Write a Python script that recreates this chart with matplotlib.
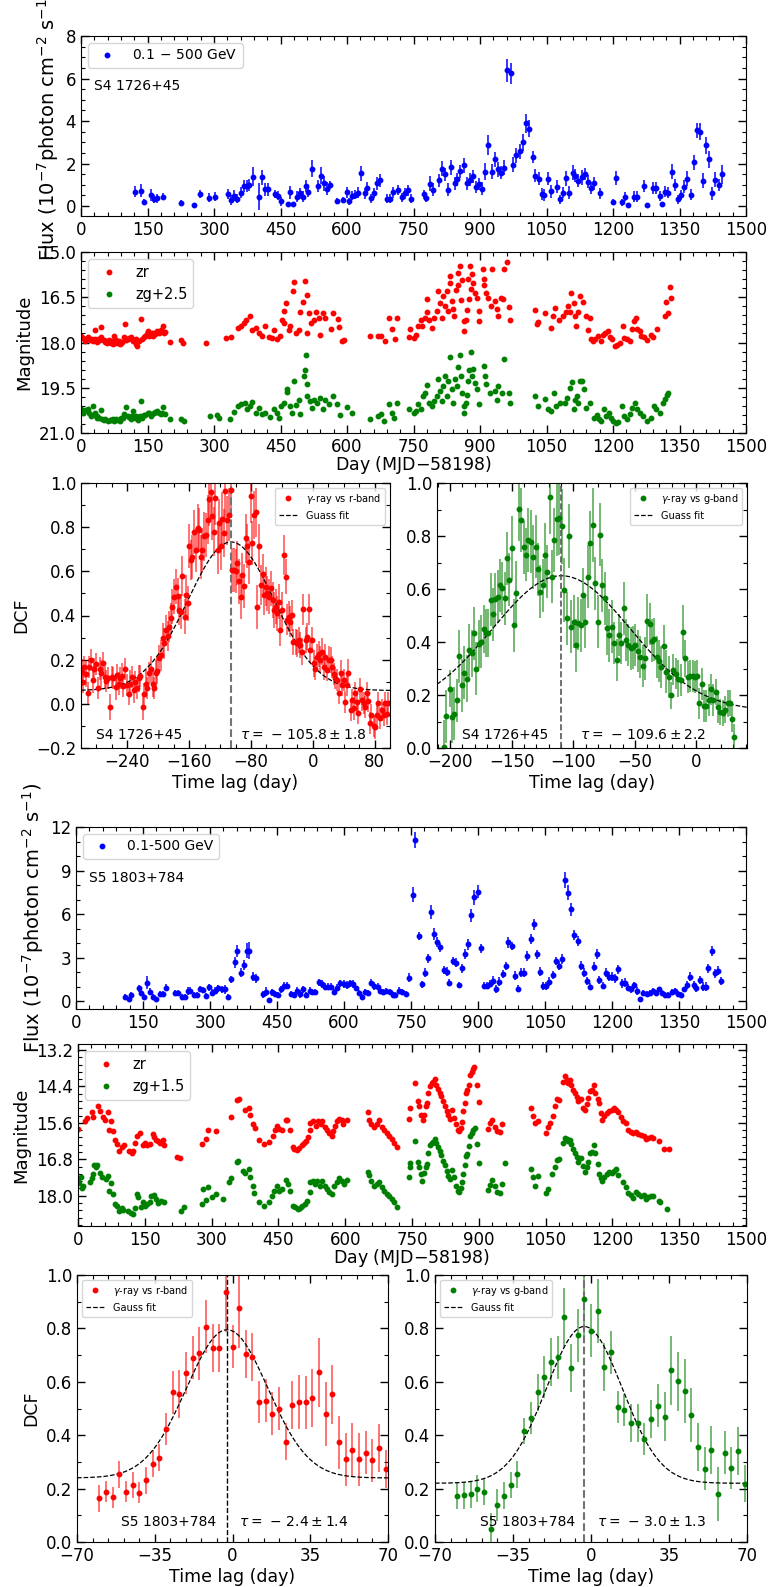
import numpy as np
import matplotlib
matplotlib.use("Agg")
import matplotlib.pyplot as plt
from matplotlib.colors import to_rgba
from matplotlib.ticker import AutoMinorLocator


# ---------------- S4 1726+45 : gamma-ray light curve ----------------
s4_days = [122, 136, 143, 157, 164, 172, 184, 226, 255, 268,
           289, 303, 331, 338, 346, 352, 360, 367, 374, 380,
           387, 402, 409, 416, 422, 438, 445, 451, 466, 472,
           479, 487, 493, 500, 507, 513, 520, 534, 541, 549,
           555, 562, 577, 592, 599, 605, 612, 619, 625, 632,
           640, 646, 654, 661, 667, 674, 690, 696, 703, 716,
           724, 731, 737, 745, 773, 779, 787, 794, 808, 815,
           822, 828, 835, 843, 849, 856, 864, 871, 877, 884,
           890, 898, 905, 912, 919, 927, 933, 940, 948, 955,
           961, 969, 975, 982, 990, 997, 1004, 1011, 1019, 1025,
           1032, 1039, 1045, 1053, 1060, 1073, 1081, 1088, 1095, 1101,
           1109, 1115, 1122, 1129, 1136, 1143, 1151, 1157, 1171, 1200,
           1207, 1221, 1227, 1234, 1248, 1254, 1269, 1276, 1291, 1297,
           1305, 1311, 1318, 1325, 1332, 1339, 1347, 1354, 1360, 1367,
           1375, 1382, 1389, 1396, 1402, 1410, 1417, 1424, 1431, 1438,
           1445]
s4_flux = [0.68, 0.72, 0.19, 0.52, 0.32, 0.36, 0.44, 0.16, 0.05, 0.57,
           0.39, 0.44, 0.57, 0.28, 0.49, 0.35, 0.63, 0.94, 0.94, 0.99,
           1.37, 0.44, 1.35, 0.79, 0.79, 0.57, 0.49, 0.22, 0.09, 0.65,
           0.09, 0.44, 0.60, 0.44, 0.94, 0.68, 1.75, 0.94, 1.43, 1.07,
           0.82, 0.98, 0.25, 0.28, 0.65, 0.22, 0.49, 0.54, 0.63, 1.53,
           0.60, 0.83, 0.36, 0.61, 1.07, 1.21, 0.35, 0.35, 0.65, 0.76,
           0.41, 0.60, 0.74, 0.35, 0.55, 0.39, 1.04, 0.76, 1.21, 1.76,
           1.50, 0.76, 1.83, 1.06, 1.26, 1.64, 1.91, 1.06, 1.24, 1.39,
           0.90, 1.04, 0.82, 1.62, 2.87, 1.62, 2.20, 1.72, 1.56, 1.81,
           6.38, 6.24, 1.94, 2.39, 2.57, 2.99, 3.89, 3.64, 2.31, 1.42,
           1.28, 0.57, 0.52, 1.28, 0.69, 0.91, 0.31, 0.63, 1.31, 0.63,
           1.57, 1.42, 1.20, 1.35, 1.51, 1.15, 0.85, 1.07, 0.60, 0.20,
           1.32, 0.17, 0.44, 0.05, 0.44, 0.44, 0.94, 0.06, 0.85, 0.85,
           0.47, 0.08, 0.68, 0.63, 1.61, 0.99, 0.31, 0.52, 0.91, 1.28,
           0.54, 2.06, 3.57, 3.50, 1.18, 2.85, 2.20, 0.60, 1.23, 0.99,
           1.50]
s4_ferr = [0.25, 0.3, 0.12, 0.3, 0.2, 0.2, 0.15, 0.12, 0.1, 0.2,
           0.2, 0.2, 0.25, 0.25, 0.25, 0.2, 0.25, 0.3, 0.3, 0.3,
           0.45, 0.65, 0.35, 0.3, 0.3, 0.2, 0.2, 0.2, 0.1, 0.3,
           0.1, 0.25, 0.25, 0.25, 0.3, 0.25, 0.4, 0.3, 0.4, 0.35,
           0.3, 0.2, 0.15, 0.15, 0.25, 0.15, 0.2, 0.2, 0.25, 0.35,
           0.25, 0.3, 0.2, 0.25, 0.3, 0.3, 0.2, 0.2, 0.25, 0.25,
           0.2, 0.25, 0.25, 0.2, 0.2, 0.2, 0.35, 0.3, 0.3, 0.35,
           0.3, 0.3, 0.35, 0.3, 0.3, 0.3, 0.35, 0.3, 0.3, 0.3,
           0.3, 0.3, 0.3, 0.4, 0.45, 0.35, 0.35, 0.35, 0.3, 0.35,
           0.55, 0.5, 0.35, 0.35, 0.35, 0.4, 0.45, 0.4, 0.3, 0.3,
           0.3, 0.3, 0.3, 0.3, 0.3, 0.3, 0.2, 0.25, 0.35, 0.3,
           0.35, 0.3, 0.3, 0.35, 0.3, 0.3, 0.3, 0.3, 0.25, 0.15,
           0.35, 0.15, 0.2, 0.1, 0.25, 0.25, 0.3, 0.1, 0.3, 0.3,
           0.25, 0.1, 0.25, 0.25, 0.35, 0.3, 0.2, 0.25, 0.3, 0.35,
           0.25, 0.35, 0.35, 0.4, 0.35, 0.4, 0.4, 0.3, 0.35, 0.3,
           0.45]

# ---------------- S4 1726+45 : ZTF magnitudes (day, mag) ----------------
s4_zr = [(0, 17.77), (5, 17.85), (10, 17.95), (15, 17.81), (20, 17.92), (24, 17.88), (28, 17.95), (31, 17.57),
         (31, 17.88), (35, 17.98), (38, 17.90), (42, 17.93), (45, 17.48), (45, 17.81), (52, 17.91), (55, 17.97),
         (58, 18.02), (60, 17.98), (63, 17.92), (67, 18.02), (70, 17.95), (72, 18.05), (75, 17.98), (75, 17.77),
         (78, 17.93), (82, 18.03), (85, 17.95), (88, 18.05), (90, 18.00), (93, 17.97), (97, 17.81), (99, 17.40),
         (102, 17.92), (105, 17.89), (108, 17.84), (112, 17.81), (115, 17.87), (118, 17.95), (120, 17.91),
         (123, 18.05), (125, 17.90), (127, 18.11), (130, 17.95), (135, 17.22), (138, 17.87), (142, 17.81),
         (145, 17.78), (148, 17.72), (150, 17.63), (153, 17.80), (157, 17.74), (160, 17.70), (163, 17.78),
         (165, 17.68), (168, 17.72), (172, 17.63), (175, 17.70), (178, 17.65), (180, 17.57), (183, 17.62),
         (186, 17.44), (187, 17.70), (190, 17.66), (200, 17.98), (225, 17.91), (229, 18.02), (281, 18.01),
         (326, 17.84), (339, 17.82), (354, 17.53), (360, 17.44), (367, 17.35), (373, 17.26), (382, 17.13),
         (386, 17.57), (394, 17.52), (401, 17.68), (409, 17.77), (416, 17.44), (424, 17.81), (431, 17.85),
         (436, 17.57), (442, 17.88), (449, 17.79), (454, 17.24), (457, 17.35), (459, 16.96), (463, 16.69),
         (469, 17.57), (472, 17.46), (478, 16.30), (480, 16.00), (484, 17.68), (491, 17.57), (495, 17.00),
         (501, 16.67), (506, 15.97), (509, 16.41), (510, 17.68), (514, 17.02), (519, 17.35), (525, 17.24),
         (531, 17.00), (536, 17.20), (539, 17.74), (546, 17.02), (551, 17.18), (563, 17.55), (569, 17.02),
         (579, 17.22), (581, 17.48), (589, 17.95), (593, 17.91), (653, 17.77), (671, 17.77), (677, 17.77),
         (686, 17.95), (694, 17.18), (701, 17.55), (709, 17.89), (713, 17.18), (739, 17.82), (743, 17.55),
         (750, 17.85), (756, 17.74), (761, 17.46), (766, 17.26), (770, 17.46), (776, 17.18), (780, 17.00),
         (780, 16.56), (785, 17.24), (791, 17.51), (797, 17.18), (803, 16.96), (806, 16.30), (810, 16.69),
         (814, 17.18), (817, 16.47), (821, 16.78), (825, 16.30), (827, 16.96), (832, 16.03), (832, 15.78),
         (836, 16.63), (840, 16.89), (842, 17.13), (845, 16.25), (850, 16.08), (851, 15.69), (855, 15.45),
         (857, 16.58), (859, 15.92), (863, 17.29), (865, 17.62), (868, 17.24), (870, 16.91), (874, 15.89),
         (876, 16.56), (878, 15.47), (880, 16.22), (883, 15.72), (885, 16.03), (889, 16.36), (893, 16.52),
         (897, 16.96), (898, 17.29), (906, 15.56), (908, 15.89), (910, 16.08), (913, 16.36), (919, 16.52),
         (925, 16.78), (928, 15.56), (934, 16.63), (938, 16.89), (940, 17.11), (947, 16.52), (952, 16.56),
         (955, 15.56), (962, 15.34), (965, 16.82), (968, 17.26), (1024, 16.93), (1028, 17.40), (1030, 17.33),
         (1046, 17.02), (1061, 17.53), (1065, 17.13), (1069, 16.85), (1078, 17.26), (1087, 17.13),
         (1093, 17.00), (1099, 16.78), (1102, 17.00), (1106, 16.36), (1111, 16.69), (1114, 17.11),
         (1116, 17.46), (1122, 17.00), (1125, 16.47), (1133, 16.67), (1138, 17.13), (1143, 17.57),
         (1148, 17.18), (1150, 17.88), (1155, 17.95), (1160, 17.89), (1166, 17.77), (1172, 17.95),
         (1177, 17.74), (1183, 17.68), (1189, 17.63), (1193, 17.81), (1198, 17.88), (1204, 18.12),
         (1210, 18.07), (1215, 18.01), (1222, 17.44), (1225, 17.85), (1232, 17.89), (1238, 17.95),
         (1243, 17.55), (1247, 17.29), (1251, 17.18), (1255, 17.55), (1260, 17.63), (1264, 17.77),
         (1271, 17.81), (1277, 17.91), (1285, 17.74), (1290, 17.81), (1300, 17.55), (1318, 17.11),
         (1320, 16.67), (1324, 17.02), (1328, 16.16), (1330, 16.52)]

s4_zg = [(0, 20.22), (4, 20.35), (5, 20.30), (7, 20.27), (10, 20.25), (15, 20.19), (18, 20.35), (22, 20.44),
         (26, 20.11), (28, 20.40), (31, 20.35), (35, 20.45), (37, 20.49), (40, 20.50), (45, 20.24), (48, 20.52),
         (52, 20.57), (55, 20.55), (60, 20.60), (65, 20.58), (67, 20.57), (72, 20.55), (75, 20.60), (80, 20.55),
         (82, 20.57), (88, 20.60), (90, 20.49), (95, 20.50), (97, 20.38), (101, 20.13), (105, 20.44),
         (108, 20.48), (112, 20.55), (115, 20.45), (118, 20.27), (122, 20.50), (124, 20.44), (129, 20.57),
         (132, 20.45), (135, 19.94), (138, 20.50), (142, 20.41), (145, 20.40), (150, 20.33), (153, 20.35),
         (157, 20.44), (160, 20.38), (165, 20.33), (168, 20.30), (172, 20.27), (176, 20.35), (180, 20.38),
         (183, 20.33), (186, 20.13), (189, 20.38), (200, 20.55), (226, 20.55), (232, 20.60), (291, 20.44),
         (306, 20.41), (311, 20.49), (337, 20.55), (345, 20.30), (354, 20.11), (360, 20.05), (369, 20.02),
         (375, 20.19), (381, 20.11), (386, 19.97), (394, 20.33), (401, 20.16), (409, 20.38), (416, 20.33),
         (427, 20.46), (435, 20.22), (441, 20.33), (446, 20.49), (452, 20.11), (457, 20.02), (464, 19.55),
         (465, 19.64), (471, 20.11), (476, 20.33), (480, 19.28), (484, 20.08), (491, 19.89), (495, 20.38),
         (502, 19.11), (506, 18.91), (508, 18.40), (509, 19.39), (510, 19.78), (516, 19.94), (521, 20.16),
         (526, 19.89), (532, 20.02), (539, 19.83), (546, 20.19), (551, 19.89), (559, 20.05), (569, 19.78),
         (577, 20.05), (585, 20.41), (600, 20.13), (611, 20.35), (651, 20.52), (671, 20.44), (676, 20.38),
         (684, 20.60), (694, 20.05), (701, 20.33), (707, 20.49), (713, 19.99), (739, 20.22), (750, 20.33),
         (756, 20.27), (761, 20.05), (767, 20.19), (772, 19.78), (776, 19.66), (780, 19.42), (785, 19.99),
         (791, 20.11), (797, 19.94), (803, 19.78), (806, 19.22), (810, 19.61), (814, 19.94), (817, 19.44),
         (821, 19.11), (825, 19.78), (828, 19.28), (832, 18.47), (836, 19.53), (840, 19.99), (843, 19.22),
         (847, 19.44), (851, 18.80), (855, 18.43), (857, 19.11), (860, 19.69), (863, 20.11), (865, 20.33),
         (868, 20.02), (870, 19.75), (874, 19.28), (876, 18.91), (880, 18.32), (883, 19.11), (885, 18.87),
         (889, 19.33), (893, 19.55), (897, 20.05), (908, 18.78), (911, 19.11), (913, 19.36), (923, 19.66),
         (934, 19.61), (938, 19.89), (941, 19.44), (949, 19.66), (955, 18.54), (965, 19.66), (968, 19.99),
         (1024, 19.78), (1031, 20.11), (1046, 19.86), (1054, 20.22), (1061, 20.27), (1067, 19.69),
         (1072, 20.11), (1080, 19.99), (1091, 19.99), (1097, 19.83), (1102, 19.50), (1107, 19.31),
         (1111, 20.22), (1114, 19.89), (1118, 19.78), (1122, 19.99), (1125, 19.28), (1129, 19.28),
         (1135, 19.55), (1140, 20.16), (1148, 19.99), (1157, 20.49), (1163, 20.41), (1168, 20.55),
         (1174, 20.60), (1180, 20.22), (1185, 20.44), (1190, 20.33), (1195, 20.49), (1200, 20.60),
         (1206, 20.66), (1211, 20.63), (1220, 20.11), (1225, 20.44), (1232, 20.55), (1238, 20.38),
         (1243, 20.16), (1249, 19.99), (1255, 20.19), (1260, 20.33), (1268, 20.44), (1277, 20.60),
         (1285, 20.49), (1292, 20.11), (1298, 20.22), (1307, 20.33), (1313, 19.99), (1318, 19.86),
         (1322, 19.75), (1325, 19.66)]

# ---------------- S4 1726+45 : DCF ----------------
r1_lags = [-299, -298, -296, -293, -291, -289, -287, -285, -283, -280,
           -278, -276, -274, -271, -269, -267, -265, -262, -260, -258,
           -255, -253, -251, -249, -247, -245, -243, -240, -238, -236,
           -234, -232, -230, -228, -225, -223, -220, -218, -216, -214,
           -212, -209, -207, -205, -203, -201, -199, -197, -194, -192,
           -190, -188, -186, -184, -182, -179, -177, -175, -173, -171,
           -169, -166, -164, -162, -160, -158, -156, -154, -151, -149,
           -147, -145, -143, -141, -138, -136, -134, -132, -130, -128,
           -126, -123, -121, -119, -117, -115, -113, -111, -108, -106,
           -104, -102, -100, -98, -95, -93, -91, -89, -87, -85,
           -83, -80, -78, -76, -74, -72, -70, -67, -65, -63,
           -61, -59, -57, -54, -52, -50, -48, -46, -44, -42,
           -40, -37, -35, -33, -31, -29, -27, -25, -22, -20,
           -18, -16, -14, -12, -9, -7, -5, -3, -1, 1,
           3, 6, 8, 10, 12, 14, 16, 19, 21, 23,
           25, 27, 29, 31, 34, 36, 38, 40, 42, 44,
           46, 49, 51, 53, 55, 57, 59, 61, 64, 66,
           68, 70, 72, 74, 76, 79, 81, 83, 85, 87,
           89, 92, 94, 96, 98]
r1_dcf = [0.142, 0.10, 0.168, 0.135, 0.05, 0.168, 0.20, 0.11, 0.156, 0.18,
          0.07, 0.16, 0.138, 0.183, 0.123, 0.104, 0.115, -0.014, 0.12, 0.115,
          0.077, 0.13, 0.092, 0.115, 0.126, 0.08, 0.156, 0.085, 0.044, 0.092,
          0.12, 0.062, 0.10, 0.07, 0.115, 0.126, -0.014, 0.044, 0.092, 0.07,
          0.138, 0.156, 0.092, 0.07, 0.138, 0.15, 0.206, 0.22, 0.296, 0.274,
          0.334, 0.307, 0.35, 0.387, 0.44, 0.486, 0.531, 0.489, 0.425, 0.418,
          0.58, 0.395, 0.493, 0.455, 0.713, 0.652, 0.664, 0.78, 0.697, 0.796,
          0.788, 0.664, 0.697, 0.758, 0.766, 0.834, 0.927, 0.958, 0.852, 0.78,
          0.932, 0.697, 0.818, 0.716, 0.837, 0.773, 0.962, 0.831, 0.856, 0.97,
          0.607, 0.607, 0.60, 0.637, 0.554, 0.486, 0.584, 0.534, 0.75, 0.713,
          0.644, 0.94, 0.73, 0.856, 0.867, 0.44, 0.713, 0.538, 0.59, 0.493,
          0.531, 0.50, 0.486, 0.523, 0.47, 0.425, 0.44, 0.41, 0.463, 0.334,
          0.425, 0.675, 0.576, 0.38, 0.395, 0.372, 0.402, 0.281, 0.281, 0.274,
          0.289, 0.266, 0.236, 0.428, 0.289, 0.304, 0.428, 0.244, 0.289, 0.183,
          0.16, 0.213, 0.225, 0.20, 0.236, 0.168, 0.213, 0.153, 0.20, 0.198,
          0.165, 0.135, 0.115, 0.11, 0.05, 0.138, 0.085, 0.11, 0.009, 0.085,
          0.141, -0.029, 0.017, -0.021, 0.05, 0.009, -0.041, 0.065, 0.017, 0.002,
          -0.014, 0.047, 0.014, -0.086, -0.051, -0.101, -0.107, -0.051, 0.002, -0.066,
          -0.026, -0.051, 0.002, -0.044, 0.002]
r1_err = [0.06, 0.05, 0.05, 0.06, 0.05, 0.05, 0.05, 0.06, 0.05, 0.05,
          0.05, 0.05, 0.06, 0.05, 0.05, 0.05, 0.05, 0.06, 0.05, 0.05,
          0.06, 0.05, 0.05, 0.05, 0.06, 0.05, 0.05, 0.05, 0.05, 0.06,
          0.05, 0.06, 0.05, 0.05, 0.06, 0.05, 0.06, 0.05, 0.06, 0.05,
          0.05, 0.06, 0.06, 0.05, 0.06, 0.06, 0.06, 0.07, 0.07, 0.07,
          0.07, 0.07, 0.07, 0.07, 0.08, 0.08, 0.08, 0.08, 0.07, 0.08,
          0.09, 0.08, 0.09, 0.08, 0.10, 0.09, 0.10, 0.10, 0.10, 0.11,
          0.10, 0.10, 0.10, 0.11, 0.10, 0.11, 0.12, 0.12, 0.11, 0.11,
          0.12, 0.11, 0.11, 0.11, 0.12, 0.11, 0.13, 0.11, 0.12, 0.13,
          0.10, 0.10, 0.10, 0.10, 0.10, 0.10, 0.10, 0.10, 0.11, 0.10,
          0.10, 0.12, 0.10, 0.11, 0.11, 0.10, 0.10, 0.09, 0.09, 0.09,
          0.09, 0.08, 0.08, 0.08, 0.08, 0.08, 0.08, 0.08, 0.08, 0.07,
          0.08, 0.09, 0.08, 0.07, 0.07, 0.07, 0.07, 0.06, 0.06, 0.06,
          0.06, 0.06, 0.06, 0.07, 0.06, 0.06, 0.07, 0.06, 0.06, 0.06,
          0.05, 0.06, 0.06, 0.06, 0.06, 0.06, 0.06, 0.05, 0.06, 0.06,
          0.05, 0.05, 0.05, 0.05, 0.05, 0.06, 0.05, 0.05, 0.05, 0.05,
          0.06, 0.05, 0.05, 0.05, 0.05, 0.05, 0.05, 0.05, 0.05, 0.05,
          0.05, 0.05, 0.05, 0.05, 0.05, 0.05, 0.05, 0.05, 0.05, 0.05,
          0.05, 0.05, 0.05, 0.05, 0.05]

g1_lags = [-205.1, -202.9, -200.2, -198.3, -196.4, -194.2, -192.4, -190.1, -188.3, -186.4,
           -184.3, -182.4, -180.5, -178.6, -176.7, -174.8, -172.6, -170.7, -168.8, -166.9,
           -165.0, -163.1, -161.3, -159.4, -157.5, -155.6, -153.7, -151.8, -149.9, -148.0,
           -146.1, -144.2, -142.3, -140.2, -138.3, -136.4, -134.5, -132.6, -130.4, -128.5,
           -126.6, -124.7, -122.8, -120.9, -119.0, -117.1, -115.3, -113.1, -111.2, -109.0,
           -107.1, -105.2, -103.4, -101.5, -99.6, -97.7, -95.8, -93.9, -92.0, -90.1,
           -88.2, -86.0, -84.1, -82.3, -80.1, -78.2, -76.3, -74.4, -72.5, -70.6,
           -68.7, -66.6, -64.7, -62.8, -60.9, -59.0, -57.1, -55.2, -53.3, -51.4,
           -49.5, -47.6, -45.5, -43.6, -41.7, -39.8, -37.9, -36.0, -34.1, -32.2,
           -30.3, -28.4, -26.5, -24.4, -22.5, -20.6, -18.7, -16.8, -14.6, -12.7,
           -10.8, -8.9, -7.0, -5.1, -3.2, -1.4, 0.5, 2.4, 4.3, 6.2,
           8.1, 10.0, 11.9, 13.8, 15.7, 17.6, 19.5, 21.4, 23.3, 25.2,
           27.1, 29.0, 30.8]
g1_dcf = [0.004, 0.12, 0.224, 0.117, 0.13, 0.18, 0.347, 0.237, 0.284, 0.262,
          0.369, 0.357, 0.433, 0.30, 0.392, 0.401, 0.448, 0.435, 0.433, 0.559,
          0.504, 0.561, 0.571, 0.615, 0.603, 0.565, 0.716, 0.634, 0.754, 0.464,
          0.586, 0.902, 0.861, 0.758, 0.729, 0.786, 0.779, 0.72, 0.76, 0.675,
          0.59, 0.615, 0.729, 0.666, 0.947, 0.647, 0.786, 0.864, 0.868, 0.836,
          0.596, 0.489, 0.801, 0.458, 0.477, 0.388, 0.47, 0.464, 0.578, 0.477,
          0.647, 0.773, 0.842, 0.622, 0.477, 0.805, 0.615, 0.565, 0.451, 0.426,
          0.458, 0.397, 0.332, 0.426, 0.397, 0.527, 0.407, 0.388, 0.376, 0.38,
          0.388, 0.367, 0.344, 0.309, 0.338, 0.48, 0.468, 0.405, 0.41, 0.344,
          0.328, 0.306, 0.385, 0.288, 0.269, 0.199, 0.296, 0.281, 0.262, 0.256,
          0.439, 0.338, 0.269, 0.271, 0.271, 0.269, 0.271, 0.168, 0.243, 0.158,
          0.158, 0.18, 0.221, 0.18, 0.212, 0.153, 0.136, 0.132, 0.145, 0.168,
          0.17, 0.111, 0.042]
g1_err = [0.10, 0.10, 0.07, 0.10, 0.10, 0.08, 0.10, 0.10, 0.10, 0.09,
          0.10, 0.09, 0.10, 0.10, 0.09, 0.10, 0.09, 0.09, 0.09, 0.10,
          0.10, 0.10, 0.10, 0.10, 0.10, 0.10, 0.10, 0.10, 0.12, 0.10,
          0.12, 0.12, 0.12, 0.10, 0.10, 0.12, 0.12, 0.12, 0.12, 0.10,
          0.10, 0.10, 0.12, 0.10, 0.14, 0.10, 0.12, 0.14, 0.14, 0.14,
          0.12, 0.10, 0.12, 0.10, 0.10, 0.10, 0.10, 0.10, 0.10, 0.10,
          0.12, 0.12, 0.14, 0.10, 0.10, 0.12, 0.10, 0.10, 0.10, 0.10,
          0.10, 0.08, 0.08, 0.08, 0.08, 0.10, 0.08, 0.08, 0.08, 0.08,
          0.08, 0.08, 0.08, 0.08, 0.08, 0.10, 0.08, 0.08, 0.08, 0.08,
          0.08, 0.08, 0.08, 0.08, 0.08, 0.05, 0.06, 0.06, 0.07, 0.06,
          0.10, 0.07, 0.06, 0.06, 0.06, 0.06, 0.06, 0.06, 0.06, 0.06,
          0.06, 0.06, 0.06, 0.06, 0.05, 0.06, 0.05, 0.05, 0.05, 0.05,
          0.05, 0.05, 0.05]

# ---------------- S5 1803+784 : gamma-ray light curve ----------------
s5_days = [110, 118, 124, 140, 146, 153, 160, 166, 173, 179,
           187, 194, 201, 221, 228, 237, 243, 250, 256, 264,
           271, 277, 284, 292, 298, 305, 311, 319, 326, 333,
           340, 347, 355, 361, 369, 375, 382, 388, 396, 403,
           418, 425, 431, 439, 446, 452, 460, 466, 473, 481,
           488, 494, 502, 508, 515, 523, 529, 536, 545, 551,
           558, 564, 571, 578, 585, 592, 599, 606, 613, 620,
           626, 633, 640, 647, 654, 661, 668, 675, 681, 688,
           695, 702, 709, 715, 723, 730, 739, 746, 754, 760,
           767, 774, 781, 788, 795, 802, 809, 815, 823, 830,
           836, 843, 851, 857, 864, 872, 878, 885, 892, 899,
           906, 913, 920, 927, 933, 941, 948, 955, 962, 968,
           975, 983, 989, 996, 1003, 1010, 1018, 1026, 1032, 1039,
           1045, 1053, 1060, 1067, 1074, 1081, 1088, 1095, 1102, 1109,
           1116, 1124, 1130, 1137, 1145, 1151, 1159, 1166, 1172, 1179,
           1186, 1193, 1200, 1207, 1214, 1222, 1228, 1236, 1242, 1249,
           1257, 1263, 1270, 1278, 1285, 1291, 1299, 1305, 1313, 1319,
           1326, 1334, 1340, 1348, 1355, 1361, 1368, 1375, 1383, 1389,
           1397, 1403, 1410, 1416, 1423, 1431, 1437, 1444]
s5_flux = [0.25, 0.11, 0.41, 0.87, 0.57, 0.25, 1.26, 0.64, 0.30, 0.16,
           0.48, 0.48, 0.92, 0.57, 0.57, 0.25, 0.25, 0.69, 0.71, 0.41,
           0.39, 0.85, 0.78, 0.34, 0.94, 0.57, 0.71, 0.87, 0.80, 0.80,
           0.30, 1.49, 2.66, 3.47, 1.95, 2.48, 3.47, 3.47, 1.68, 1.56,
           0.46, 0.64, 0.07, 0.60, 0.46, 0.41, 0.80, 1.03, 1.06, 0.46,
           0.44, 0.71, 0.48, 0.80, 0.41, 0.71, 0.64, 0.64, 1.29, 1.17,
           0.99, 0.99, 0.99, 0.62, 0.92, 1.22, 1.17, 1.10, 1.22, 1.17,
           0.87, 0.57, 0.30, 0.64, 0.53, 1.26, 1.03, 0.99, 0.71, 0.64,
           0.71, 0.64, 0.41, 0.41, 0.71, 0.64, 0.48, 1.61, 7.34, 11.13,
           4.48, 1.15, 1.95, 2.94, 6.15, 4.61, 4.09, 3.70, 2.13, 2.02,
           1.26, 2.75, 2.64, 1.10, 2.25, 3.24, 3.90, 5.92, 7.14, 7.53,
           3.63, 1.06, 1.06, 1.19, 1.40, 0.83, 1.33, 1.86, 2.41, 4.04,
           3.79, 1.74, 0.85, 1.95, 1.95, 3.10, 4.29, 5.28, 3.21, 2.02,
           1.03, 1.03, 1.33, 1.79, 2.75, 2.43, 2.91, 8.33, 7.48, 6.33,
           4.54, 4.13, 2.43, 1.95, 1.38, 0.99, 2.36, 3.24, 1.45, 1.06,
           1.95, 1.68, 1.68, 1.56, 2.18, 1.22, 1.26, 0.92, 0.80, 1.08,
           0.69, 0.11, 0.57, 0.46, 0.53, 0.71, 0.57, 0.80, 0.57, 0.41,
           0.41, 0.64, 0.69, 0.48, 0.41, 0.80, 1.10, 1.68, 1.10, 0.87,
           1.45, 0.99, 0.99, 2.25, 3.47, 1.91, 2.09, 1.38]
s5_ferr = [0.2, 0.15, 0.2, 0.25, 0.25, 0.2, 0.45, 0.25, 0.2, 0.15,
           0.2, 0.2, 0.25, 0.2, 0.2, 0.2, 0.2, 0.25, 0.25, 0.2,
           0.2, 0.2, 0.2, 0.2, 0.25, 0.25, 0.25, 0.25, 0.25, 0.3,
           0.2, 0.25, 0.35, 0.4, 0.3, 0.35, 0.5, 0.6, 0.3, 0.3,
           0.25, 0.3, 0.15, 0.25, 0.2, 0.2, 0.25, 0.25, 0.25, 0.2,
           0.2, 0.25, 0.3, 0.25, 0.2, 0.25, 0.2, 0.2, 0.25, 0.25,
           0.25, 0.25, 0.25, 0.2, 0.25, 0.25, 0.25, 0.25, 0.25, 0.25,
           0.2, 0.2, 0.2, 0.2, 0.2, 0.25, 0.25, 0.25, 0.2, 0.2,
           0.2, 0.2, 0.2, 0.2, 0.25, 0.2, 0.2, 0.3, 0.5, 0.55,
           0.3, 0.25, 0.3, 0.3, 0.5, 0.4, 0.35, 0.3, 0.3, 0.3,
           0.25, 0.3, 0.3, 0.2, 0.3, 0.35, 0.4, 0.45, 0.5, 0.45,
           0.3, 0.25, 0.25, 0.25, 0.3, 0.25, 0.3, 0.3, 0.3, 0.35,
           0.3, 0.3, 0.25, 0.3, 0.3, 0.35, 0.35, 0.4, 0.3, 0.3,
           0.25, 0.25, 0.3, 0.3, 0.3, 0.3, 0.35, 0.55, 0.5, 0.45,
           0.35, 0.35, 0.3, 0.3, 0.25, 0.25, 0.3, 0.35, 0.3, 0.25,
           0.3, 0.3, 0.3, 0.3, 0.3, 0.3, 0.3, 0.25, 0.25, 0.25,
           0.25, 0.15, 0.2, 0.2, 0.2, 0.2, 0.2, 0.2, 0.2, 0.2,
           0.2, 0.2, 0.2, 0.2, 0.2, 0.2, 0.25, 0.3, 0.25, 0.25,
           0.3, 0.3, 0.3, 0.3, 0.35, 0.3, 0.3, 0.25]

# ---------------- S5 1803+784 : ZTF magnitudes (day, mag) ----------------
s5_zr = [(0, 15.80), (16, 15.55), (21, 15.44), (31, 15.25), (33, 15.40), (45, 15.05), (49, 15.22), (57, 15.40),
         (61, 15.49), (67, 15.25), (70, 15.82), (74, 15.55), (78, 15.87), (82, 16.17), (87, 16.31), (93, 16.53),
         (98, 16.39), (103, 16.34), (115, 16.53), (121, 16.60), (124, 16.53), (128, 16.25), (132, 16.04),
         (139, 15.95), (145, 16.34), (150, 16.28), (156, 16.34), (162, 16.31), (168, 15.98), (171, 16.06),
         (175, 16.15), (180, 16.20), (184, 16.25), (190, 16.17), (193, 16.34), (223, 16.71), (229, 16.75),
         (278, 16.31), (287, 16.12), (293, 15.82), (310, 15.88), (343, 15.41), (358, 14.84), (361, 14.81),
         (374, 15.19), (383, 15.11), (386, 15.33), (392, 15.65), (397, 15.76), (407, 16.17), (418, 16.31),
         (430, 16.23), (437, 16.04), (442, 15.82), (446, 15.69), (452, 15.80), (457, 15.82), (467, 15.51),
         (470, 15.51), (476, 15.84), (482, 16.39), (485, 16.47), (491, 16.51), (497, 16.42), (502, 16.34),
         (507, 16.28), (513, 16.20), (517, 16.06), (521, 15.82), (522, 15.60), (528, 15.55), (534, 15.69),
         (540, 15.55), (545, 15.65), (549, 15.55), (555, 15.73), (560, 15.84), (564, 15.93), (570, 16.04),
         (573, 15.87), (578, 15.69), (582, 15.55), (587, 15.47), (592, 15.49), (596, 15.65), (605, 15.51),
         (652, 15.25), (654, 15.51), (659, 15.65), (665, 15.73), (671, 15.65), (677, 15.51), (682, 15.73),
         (687, 15.84), (693, 15.93), (699, 16.04), (704, 16.12), (710, 16.25), (716, 16.39), (743, 15.47),
         (745, 15.11), (757, 14.29), (763, 14.89), (766, 15.05), (770, 15.33), (774, 15.49), (778, 15.33),
         (781, 15.05), (784, 14.95), (787, 14.62), (791, 14.38), (794, 14.29), (798, 14.24), (802, 14.16),
         (805, 14.35), (809, 14.49), (813, 14.60), (816, 14.73), (820, 14.89), (824, 15.05), (828, 15.22),
         (831, 15.33), (835, 15.47), (839, 15.19), (845, 15.44), (848, 15.65), (853, 15.82), (856, 15.87),
         (859, 15.76), (862, 15.58), (865, 15.22), (868, 14.95), (871, 14.62), (873, 14.51), (877, 14.35),
         (880, 14.02), (884, 13.91), (888, 13.83), (890, 13.77), (895, 14.35), (900, 14.92), (920, 15.80),
         (925, 15.60), (930, 15.49), (936, 15.73), (941, 15.87), (947, 15.91), (953, 15.65), (1018, 15.11),
         (1022, 15.36), (1027, 15.60), (1032, 15.55), (1050, 15.93), (1056, 15.73), (1061, 15.60),
         (1066, 15.36), (1070, 15.05), (1075, 14.81), (1080, 14.84), (1090, 14.24), (1093, 14.07),
         (1097, 14.18), (1101, 14.29), (1105, 14.20), (1108, 14.35), (1112, 14.51), (1116, 14.62),
         (1120, 14.75), (1123, 14.89), (1129, 14.81), (1135, 15.11), (1138, 15.19), (1142, 14.99),
         (1146, 14.78), (1150, 14.56), (1155, 14.51), (1159, 14.35), (1162, 14.60), (1167, 14.81),
         (1170, 14.95), (1174, 15.27), (1177, 15.49), (1182, 15.38), (1187, 15.29), (1192, 15.22),
         (1198, 15.19), (1204, 15.11), (1209, 15.16), (1213, 15.25), (1219, 15.40), (1224, 15.55),
         (1230, 15.62), (1236, 15.84), (1242, 15.91), (1247, 15.95), (1252, 15.91), (1258, 15.98),
         (1264, 16.01), (1270, 16.04), (1275, 16.12), (1281, 16.09), (1287, 16.06), (1292, 16.09),
         (1305, 16.20), (1315, 16.45), (1326, 16.47)]

s5_zg = [(0, 17.45), (3, 17.59), (6, 17.37), (9, 17.76), (12, 17.67), (27, 17.56), (31, 17.43), (34, 17.29),
         (36, 17.00), (40, 17.07), (43, 17.00), (49, 17.24), (55, 17.40), (63, 17.45), (67, 17.35), (70, 17.84),
         (73, 17.59), (78, 17.95), (83, 18.27), (88, 18.35), (93, 18.49), (98, 18.41), (102, 18.46),
         (113, 18.52), (118, 18.57), (123, 18.60), (128, 18.41), (132, 17.95), (135, 18.06), (141, 18.38),
         (145, 18.20), (150, 18.33), (156, 18.27), (162, 18.22), (165, 18.00), (171, 17.98), (175, 18.11),
         (180, 18.24), (186, 18.16), (192, 18.20), (231, 18.52), (237, 18.38), (278, 18.27), (281, 17.78),
         (287, 18.13), (293, 17.73), (302, 18.05), (310, 17.95), (325, 18.11), (340, 17.56), (343, 17.43),
         (358, 16.89), (360, 16.85), (370, 17.18), (375, 17.26), (383, 17.11), (386, 17.40), (392, 17.67),
         (395, 17.91), (407, 18.22), (418, 18.33), (430, 18.22), (435, 18.00), (440, 17.84), (446, 17.67),
         (452, 17.84), (457, 17.78), (467, 17.48), (472, 17.62), (476, 17.84), (482, 18.33), (487, 18.38),
         (493, 18.44), (499, 18.41), (504, 18.33), (510, 18.27), (515, 18.16), (520, 17.89), (522, 17.56),
         (527, 17.51), (532, 17.62), (537, 17.51), (543, 17.67), (549, 17.51), (555, 17.67), (560, 17.78),
         (564, 17.89), (570, 17.95), (575, 17.67), (581, 17.56), (587, 17.43), (592, 17.51), (597, 17.62),
         (605, 17.48), (652, 17.22), (654, 17.32), (659, 17.51), (665, 17.67), (671, 17.62), (677, 17.54),
         (682, 17.73), (687, 17.84), (693, 17.95), (699, 18.00), (704, 18.11), (710, 18.22), (716, 18.38),
         (743, 17.40), (745, 17.07), (745, 16.91), (757, 16.20), (763, 16.89), (766, 17.07), (770, 17.29),
         (773, 17.51), (778, 17.24), (781, 17.07), (783, 16.96), (787, 16.58), (791, 16.34), (794, 16.28),
         (798, 16.23), (802, 16.12), (805, 16.28), (809, 16.39), (813, 16.53), (816, 16.67), (820, 16.85),
         (824, 17.00), (828, 17.18), (831, 17.35), (835, 17.45), (840, 17.15), (845, 17.40), (848, 17.67),
         (853, 17.84), (856, 17.87), (859, 17.76), (862, 17.56), (865, 17.29), (868, 17.00), (871, 16.69),
         (873, 16.64), (877, 16.36), (880, 16.04), (884, 15.95), (888, 15.84), (891, 15.76), (895, 16.31),
         (900, 16.93), (920, 17.80), (925, 17.64), (930, 17.48), (936, 17.67), (941, 17.89), (947, 17.92),
         (953, 17.62), (959, 16.93), (1018, 17.13), (1022, 17.37), (1027, 17.67), (1032, 17.35),
         (1050, 17.92), (1056, 17.78), (1064, 17.29), (1070, 17.07), (1075, 16.82), (1080, 16.80),
         (1090, 16.25), (1093, 16.09), (1097, 16.14), (1101, 16.20), (1105, 16.17), (1108, 16.31),
         (1112, 16.47), (1116, 16.58), (1120, 16.71), (1123, 16.89), (1129, 16.75), (1135, 17.02),
         (1138, 17.21), (1142, 17.07), (1146, 16.89), (1150, 16.58), (1155, 16.56), (1159, 16.34),
         (1162, 16.58), (1167, 16.96), (1170, 17.29), (1174, 17.43), (1177, 17.51), (1182, 17.37),
         (1187, 17.29), (1192, 17.21), (1198, 17.24), (1204, 17.18), (1209, 17.13), (1213, 17.32),
         (1224, 17.54), (1230, 17.73), (1236, 17.92), (1242, 17.98), (1247, 18.09), (1252, 17.89),
         (1258, 17.95), (1264, 18.00), (1270, 17.98), (1275, 18.11), (1281, 18.05), (1287, 18.02),
         (1292, 18.00), (1304, 18.16), (1308, 18.22), (1323, 18.44)]

# ---------------- S5 1803+784 : DCF ----------------
lags_bottom = [-60, -57, -54, -51, -48, -45, -42, -39, -36, -33,
               -30, -27, -24, -21, -18, -15, -12, -9, -6, -3,
               0, 3, 6, 9, 12, 15, 18, 21, 24, 27,
               30, 33, 36, 39, 42, 45, 48, 51, 54, 57,
               60, 63, 66, 69]
r2_dcf = [0.163, 0.188, 0.167, 0.253, 0.188, 0.213, 0.185, 0.231, 0.293, 0.316,
          0.424, 0.561, 0.555, 0.633, 0.690, 0.707, 0.806, 0.728, 0.727, 0.936,
          0.732, 0.875, 0.703, 0.694, 0.524, 0.529, 0.480, 0.500, 0.376, 0.513,
          0.524, 0.523, 0.539, 0.635, 0.480, 0.553, 0.373, 0.310, 0.345, 0.310,
          0.335, 0.306, 0.353, 0.273]
r2_err = [0.05, 0.04, 0.04, 0.05, 0.04, 0.05, 0.04, 0.05, 0.05, 0.05,
          0.06, 0.08, 0.09, 0.08, 0.08, 0.10, 0.10, 0.09, 0.09, 0.15,
          0.08, 0.15, 0.09, 0.09, 0.08, 0.08, 0.08, 0.08, 0.07, 0.09,
          0.10, 0.10, 0.11, 0.13, 0.12, 0.11, 0.10, 0.10, 0.10, 0.10,
          0.08, 0.08, 0.09, 0.07]
g2_dcf = [0.173, 0.175, 0.178, 0.200, 0.188, 0.050, 0.138, 0.173, 0.213, 0.254,
          0.416, 0.464, 0.560, 0.618, 0.675, 0.692, 0.842, 0.653, 0.774, 0.910,
          0.792, 0.865, 0.654, 0.711, 0.505, 0.495, 0.445, 0.445, 0.385, 0.460,
          0.510, 0.470, 0.643, 0.602, 0.564, 0.475, 0.355, 0.274, 0.346, 0.180,
          0.335, 0.277, 0.341, 0.219]
g2_err = [0.05, 0.05, 0.05, 0.05, 0.05, 0.06, 0.06, 0.05, 0.05, 0.05,
          0.05, 0.06, 0.07, 0.08, 0.09, 0.08, 0.11, 0.09, 0.10, 0.15,
          0.10, 0.12, 0.09, 0.08, 0.06, 0.06, 0.07, 0.07, 0.06, 0.07,
          0.08, 0.09, 0.13, 0.11, 0.12, 0.10, 0.09, 0.08, 0.09, 0.10,
          0.08, 0.08, 0.09, 0.07]

# Gaussian fits: amplitude, centre, sigma, baseline
gauss_r1 = (0.673, -105.8, 56.0, 0.06)
gauss_g1 = (0.51, -109.6, 56.0, 0.14)
gauss_r2 = (0.555, -2.4, 18.3, 0.24)
gauss_g2 = (0.587, -3.0, 17.0, 0.22)

W, H = 771, 1587


def px_axes(fig, left, right, top, bottom):
    return fig.add_axes([left / W, 1 - bottom / H, (right - left) / W, (bottom - top) / H])


def style_axes(ax, xminor, yminor):
    ax.tick_params(which="both", direction="in", top=True, right=True)
    ax.tick_params(which="major", length=6, width=1, labelsize=12)
    ax.tick_params(which="minor", length=3, width=0.8)
    ax.xaxis.set_minor_locator(AutoMinorLocator(xminor))
    ax.yaxis.set_minor_locator(AutoMinorLocator(yminor))


def flux_panel(ax, days, flux, err, label, source, ylim, yticks, yminor):
    eb = ax.errorbar(days, flux, yerr=err, fmt="o", color="blue", ms=3.2,
                     elinewidth=1.1, capsize=0)
    ax.legend([eb[0]], [label], loc="upper left", fontsize=10)
    ax.text(0.02, 0.72, source, transform=ax.transAxes, fontsize=10, va="center")
    ax.set_xlim(0, 1500)
    ax.set_xticks(range(0, 1501, 150))
    ax.set_ylim(ylim)
    ax.set_yticks(yticks)
    ax.set_ylabel("Flux (10$^{-7}$photon cm$^{-2}$ s$^{-1}$)", fontsize=14, labelpad=3)
    style_axes(ax, 5, yminor)


def mag_panel(ax, r_pts, g_pts, glabel, ylim, yticks):
    r = np.array(r_pts).T
    g = np.array(g_pts).T
    ax.plot(r[0], r[1], "o", color="red", ms=3.2, label="zr")
    ax.plot(g[0], g[1], "o", color="green", ms=3.2, label=glabel)
    ax.legend(loc="upper left", fontsize=10.5)
    ax.set_xlim(0, 1500)
    ax.set_xticks(range(0, 1501, 150))
    ax.set_ylim(ylim)
    ax.set_yticks(yticks)
    ax.set_xlabel("Day (MJD$-$58198)", fontsize=12.5, labelpad=-1)
    ax.set_ylabel("Magnitude", fontsize=13)
    style_axes(ax, 5, 5)


def dcf_panel(ax, lags, dcf, err, color, label, fit_label, gauss, xlim, ylim,
              xticks, xminor, source, source_x, tau_text, tau_x, text_y,
              legend_loc, vcolor, vwidth):
    eb = ax.errorbar(lags, dcf, yerr=err, fmt="o", color=color, ms=3.2,
                     ecolor=to_rgba(color, 0.55), elinewidth=1.4, capsize=0)
    amp, cen, sig, base = gauss
    xs = np.linspace(xlim[0], xlim[1], 500)
    fit, = ax.plot(xs, base + amp * np.exp(-(xs - cen) ** 2 / (2 * sig ** 2)),
                   "--", color="black", lw=0.9)
    ax.axvline(cen, color=vcolor, ls="--", lw=vwidth)
    ax.legend([eb[0], fit], [label, fit_label], loc=legend_loc, fontsize=7)
    ax.text(source_x, text_y, source, transform=ax.transAxes, fontsize=10)
    ax.text(tau_x, text_y, tau_text, transform=ax.transAxes, fontsize=10)
    ax.set_xlim(xlim)
    ax.set_ylim(ylim)
    ax.set_xticks(xticks)
    ax.set_yticks(np.round(np.arange(ylim[0], ylim[1] + 0.01, 0.2), 1))
    ax.set_xlabel("Time lag (day)", fontsize=12.5, labelpad=2)
    style_axes(ax, xminor, 2)


def main():
    fig = plt.figure(figsize=(W / 100, H / 100), dpi=100)

    ax1 = px_axes(fig, 81, 746, 36, 216)
    flux_panel(ax1, s4_days, s4_flux, s4_ferr, r"0.1$\,-\,$500 GeV", "S4 1726+45",
               (-0.47, 8), [0, 2, 4, 6, 8], 4)

    ax2 = px_axes(fig, 81, 746, 252, 433)
    mag_panel(ax2, s4_zr, s4_zg, "zg+2.5", (21.0, 15.0), [15.0, 16.5, 18.0, 19.5, 21.0])

    ax3 = px_axes(fig, 81, 390, 483, 748)
    dcf_panel(ax3, r1_lags, r1_dcf, r1_err, "red", r"$\gamma$-ray vs r-band", "Guass fit",
              gauss_r1, (-300, 100), (-0.2, 1.0), [-240, -160, -80, 0, 80], 4,
              "S4 1726+45", 0.05, r"$\tau = \,-\,105.8 \pm 1.8$", 0.515, 0.035,
              "upper right", "0.45", 1.5)
    ax3.set_ylabel("DCF", fontsize=12.5)

    ax4 = px_axes(fig, 437, 747, 483, 748)
    dcf_panel(ax4, g1_lags, g1_dcf, g1_err, "green", r"$\gamma$-ray vs g-band", "Guass fit",
              gauss_g1, (-210.5, 41), (0.0, 1.0), [-200, -150, -100, -50, 0], 5,
              "S4 1726+45", 0.08, r"$\tau = \,-\,109.6 \pm 2.2$", 0.46, 0.035,
              "upper right", "0.35", 1.2)

    ax5 = px_axes(fig, 76, 746, 827, 1009)
    flux_panel(ax5, s5_days, s5_flux, s5_ferr, "0.1-500 GeV", "S5 1803+784",
               (-0.55, 12), [0, 3, 6, 9, 12], 3)

    ax6 = px_axes(fig, 78, 746, 1044, 1226)
    mag_panel(ax6, s5_zr, s5_zg, "zg+1.5", (19.0, 13.0), [13.2, 14.4, 15.6, 16.8, 18.0])

    ax7 = px_axes(fig, 77, 388, 1275, 1542)
    dcf_panel(ax7, lags_bottom, r2_dcf, r2_err, "red", r"$\gamma$-ray vs r-band", "Gauss fit",
              gauss_r2, (-70, 70), (0.0, 1.0), [-70, -35, 0, 35, 70], 5,
              "S5 1803+784", 0.14, r"$\tau = \,-\,2.4 \pm 1.4$", 0.52, 0.06,
              "upper left", "black", 1.0)
    ax7.set_ylabel("DCF", fontsize=12.5)

    ax8 = px_axes(fig, 435, 747, 1275, 1542)
    dcf_panel(ax8, lags_bottom, g2_dcf, g2_err, "green", r"$\gamma$-ray vs g-band", "Gauss fit",
              gauss_g2, (-70, 70), (0.0, 1.0), [-70, -35, 0, 35, 70], 5,
              "S5 1803+784", 0.145, r"$\tau = \,-\,3.0 \pm 1.3$", 0.52, 0.06,
              "upper left", "0.45", 1.5)

    fig.savefig("out.png", dpi=100)


if __name__ == "__main__":
    main()
